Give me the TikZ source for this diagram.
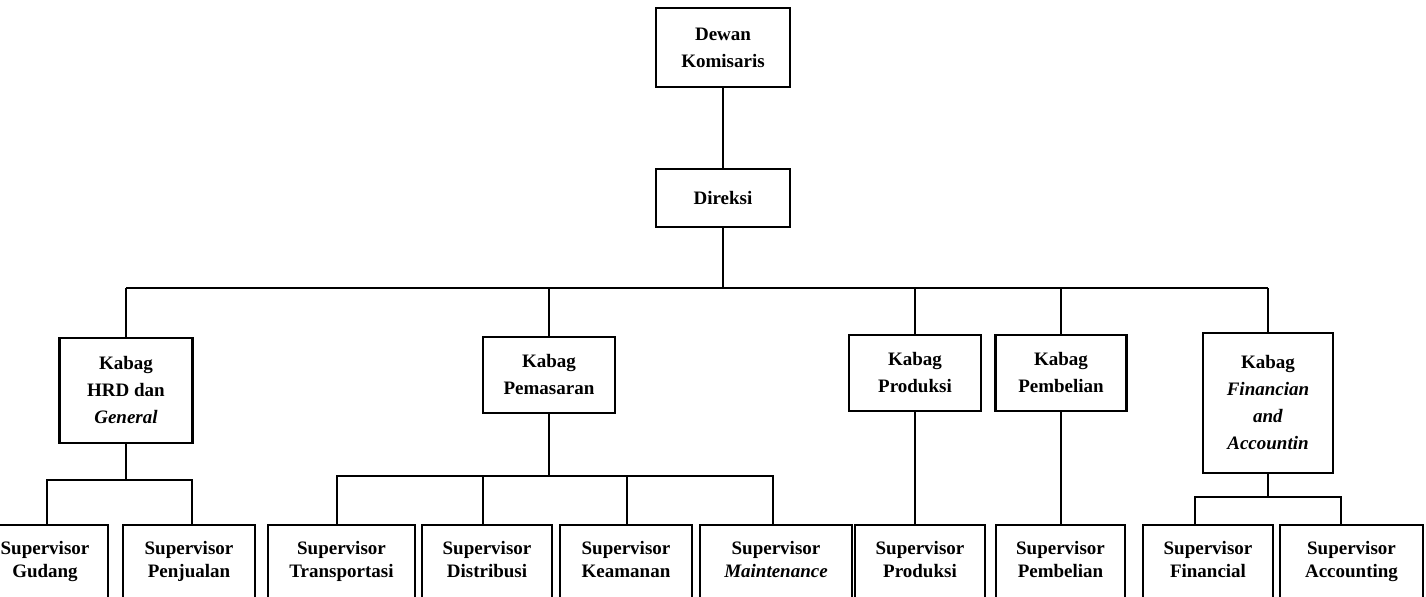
\documentclass[tikz,border=0pt]{standalone}
\usepackage{fontspec}
\setmainfont{Liberation Serif}
\begin{document}
\begin{tikzpicture}
[x=.5pt,y=-.5pt,line width=1.1pt,
kb/.style 2 args={draw,inner sep=0pt,align=center,font=\bfseries\fontsize{9.5}{13.5}\selectfont,minimum width=#1*.5pt,minimum height=#2*.5pt},
sv/.style={kb={#1}{76},font=\bfseries\fontsize{9.5}{11.5}\selectfont,execute at end node=\strut}]
\useasboundingbox(0,0) rectangle (1426,597);\clip(0,0) rectangle (1426,597);
% atas
\node(dk) at (723,47.5)[kb={134}{79}]{Dewan\\Komisaris};\node(dir) at (723,198)[kb={134}{58}]{Direksi};
% kabag
\node(hrd) at (126,390.5)[kb={133}{105}]{Kabag\\HRD dan\\\textit{General}};
\node(pms) at (549,375)[kb={132}{76}]{Kabag\\Pemasaran};\node(prd) at (915,373)[kb={132}{76}]{Kabag\\Produksi};
\node(pbl) at (1061,373)[kb={131}{76}]{Kabag\\Pembelian};
\node(fin) at (1268,403)[kb={130}{140}]{Kabag\\\textit{Financian}\\\textit{and}\\\textit{Accountin}};
% supervisor
\node(gud) at (45,563)[sv=126]{Supervisor\\Gudang};\node(pjl) at (189,563)[sv=132]{Supervisor\\Penjualan};
\node(trs) at (341.5,563)[sv=147]{Supervisor\\Transportasi};\node(dst) at (487,563)[sv=130]{Supervisor\\Distribusi};
\node(kmn) at (626,563)[sv=132]{Supervisor\\Keamanan};\node(mnt) at (776,563)[sv=152]{Supervisor\\\textit{Maintenance}};
\node(sprd) at (920,563)[sv=130]{Supervisor\\Produksi};\node(spbl) at (1060.5,563)[sv=129]{Supervisor\\Pembelian};
\node(sfin) at (1208,563)[sv=130]{Supervisor\\Financial};\node(sacc) at (1351.5,563)[sv=143]{Supervisor\\Accounting};
% garis
\coordinate(bus) at (0,288);
\draw(dk)--(dir);\draw(dir.south)--(dir.south|-bus);\draw(hrd.north|-bus)--(fin.north|-bus);
\foreach \k in {hrd,pms,prd,pbl,fin}\draw(\k.north)--(\k.north|-bus);
\coordinate(h1) at (47,480);\coordinate(h2) at (192,480);
\draw(hrd.south)--(hrd.south|-h1);\draw(gud.north-|h1)--(h1)--(h2)--(pjl.north-|h2);
\coordinate(p1) at (337,476);\coordinate(p2) at (483,476);\coordinate(p3) at (627,476);\coordinate(p4) at (773,476);
\draw(pms.south)--(pms.south|-p1);\draw(trs.north-|p1)--(p1)--(p4)--(mnt.north-|p4);
\draw(dst.north-|p2)--(p2);\draw(kmn.north-|p3)--(p3);
\draw(prd.south)--(prd.south|-sprd.north);\draw(pbl.south)--(pbl.south|-spbl.north);
\coordinate(f1) at (1195,497);\coordinate(f2) at (1341,497);
\draw(fin.south)--(fin.south|-f1);\draw(sfin.north-|f1)--(f1)--(f2)--(sacc.north-|f2);
\end{tikzpicture}
\end{document}
